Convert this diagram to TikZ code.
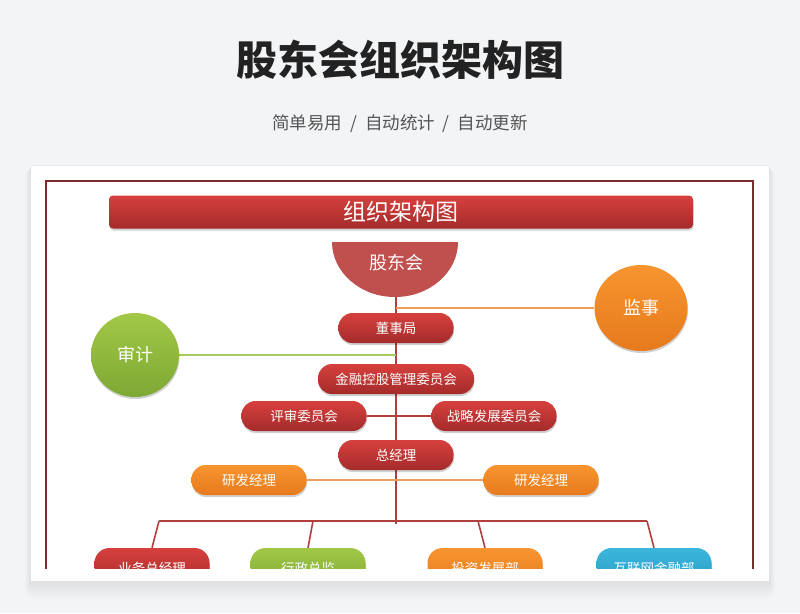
\documentclass[tikz,border=0pt]{standalone}
\usepackage{fontspec}
\setmainfont{Noto Sans CJK SC}
\usetikzlibrary{shapes.geometric}

\definecolor{pagebg}{HTML}{F3F4F6}
\definecolor{titlegray}{HTML}{222222}
\definecolor{subgray}{HTML}{555555}
\definecolor{framered}{HTML}{7A2C2C}
\definecolor{trunkred}{HTML}{B0403E}
\definecolor{gdhred}{HTML}{C0504D}
\definecolor{redtop}{HTML}{D6403D}
\definecolor{redbot}{HTML}{A42B2B}
\definecolor{orgtop}{HTML}{F8952F}
\definecolor{orgbot}{HTML}{E67A1D}
\definecolor{grntop}{HTML}{A2C846}
\definecolor{grnbot}{HTML}{7DA834}
\definecolor{blutop}{HTML}{3CB6DC}
\definecolor{blubot}{HTML}{2B9CC4}
\definecolor{orgline}{HTML}{F0A05E}
\definecolor{grnline}{HTML}{A6CB66}

\pgfdeclarelayer{paper}
\pgfdeclarelayer{lines}
\pgfsetlayers{paper,lines,main}

\newcommand{\fs}[1]{\fontsize{#1}{#1}\selectfont}

\begin{document}
\begin{tikzpicture}[x=1pt,y=-1pt,
    softshadow/.style={preaction={fill=black, fill opacity=0.18,
        transform canvas={xshift=0.5pt, yshift=-2pt}}},
    pill/.style={rounded corners=14pt, minimum width=115pt, minimum height=30pt,
        inner sep=0pt, text=white, font=\fs{13.5}, softshadow},
    redpill/.style={pill, top color=redtop, bottom color=redbot},
    orgpill/.style={pill, top color=orgtop, bottom color=orgbot},
    grnpill/.style={pill, top color=grntop, bottom color=grnbot},
    blupill/.style={pill, top color=blutop, bottom color=blubot},
    basepill/.style={minimum height=40pt, rounded corners=15pt},
    blob/.style={ellipse, inner sep=0pt, text=white, font=\fs{18}, softshadow},
    trunk/.style={trunkred, line width=1.6pt}
]
    \begin{pgfonlayer}{paper}
        \fill[pagebg] (0,0) rectangle (800,613);
        \foreach \i in {1,...,10}
            \fill[black, fill opacity=0.008, rounded corners=\i pt]
                (31-\i*0.6,166+\i*0.2) rectangle (769+\i*0.6,581+\i*1.8);
        \fill[black, fill opacity=0.03] (31,165.3) rectangle (769,166);
        \fill[white] (31,166) rectangle (769,581);
    \end{pgfonlayer}

    \node[font=\fs{41}\bfseries, text=titlegray] (title) at (400,60) {股东会组织架构图};
    \node[font=\fs{17.5}, text=subgray] (subtitle) at (400,124) {简单易用 \ / \ 自动统计 \ / \ 自动更新};

    \begin{scope}
    \clip (40,175) rectangle (760,568);
    \draw[framered, line width=1.3pt] (46,600) |- (753,181) -- (753,600);

    \node[rounded corners=4pt, minimum width=584pt, minimum height=33pt, inner sep=0pt,
        top color=redtop, bottom color=redbot, text=white, font=\fs{23}, softshadow]
        (banner) at (401,212) {组织架构图};

    \fill[gdhred] (332,242) .. controls (332,272) and (360,297) .. (395,297)
        .. controls (430,297) and (458,272) .. (458,242) -- cycle;
    \node[text=white, font=\fs{18}] (gdh) at (396,263) {股东会};
    \coordinate (gdhbot) at (396,297);

    \node[blob, minimum width=93pt, minimum height=86pt, top color=orgtop, bottom color=orgbot] (jianshi) at (641,308) {监事};
    \node[blob, minimum width=88pt, minimum height=84pt, top color=grntop, bottom color=grnbot] (shenji) at (135,355) {审计};

    \node[redpill] (dongshi) at (396,328) {董事局};
    \node[redpill, minimum width=156pt] (jinrong) at (396,379) {金融控股管理委员会};
    \node[redpill, minimum width=125pt] (pingshen) at (304,416) {评审委员会};
    \node[redpill, minimum width=125pt] (zhanlue) at (494,416) {战略发展委员会};
    \node[redpill] (zongjl) at (396,455) {总经理};
    \node[orgpill] (yanfaL) at (249,480) {研发经理};
    \node[orgpill] (yanfaR) at (541,480) {研发经理};

    \node[redpill, basepill] (yewu) at (152,568) {业务总经理};
    \node[grnpill, basepill] (xingzheng) at (308,568) {行政总监};
    \node[orgpill, basepill] (touzi) at (485,568) {投资发展部};
    \node[blupill, basepill] (hulian) at (654,568) {互联网金融部};
    \end{scope}

    \begin{pgfonlayer}{lines}
        \coordinate (busmid) at (396,524);
        \draw[trunk] (gdhbot) -- (busmid);
        \draw[orgline, line width=1.6pt] (jianshi.west) -- (jianshi.west -| gdhbot);
        \draw[grnline, line width=1.6pt] (shenji.east) -- (shenji.east -| gdhbot);
        \draw[trunk] (pingshen.east) -- (zhanlue.west);
        \draw[orgline, line width=1.6pt] (yanfaL.east) -- (yanfaR.west);
        \foreach \n/\x in {yewu/159, xingzheng/313, touzi/478, hulian/647} {
            \coordinate (tap-\n) at (\x,521);
            \draw[trunk] (tap-\n) -- (\n.north);
        }
        \draw[trunk] (tap-yewu) -- (tap-hulian);
    \end{pgfonlayer}
\end{tikzpicture}
\end{document}
